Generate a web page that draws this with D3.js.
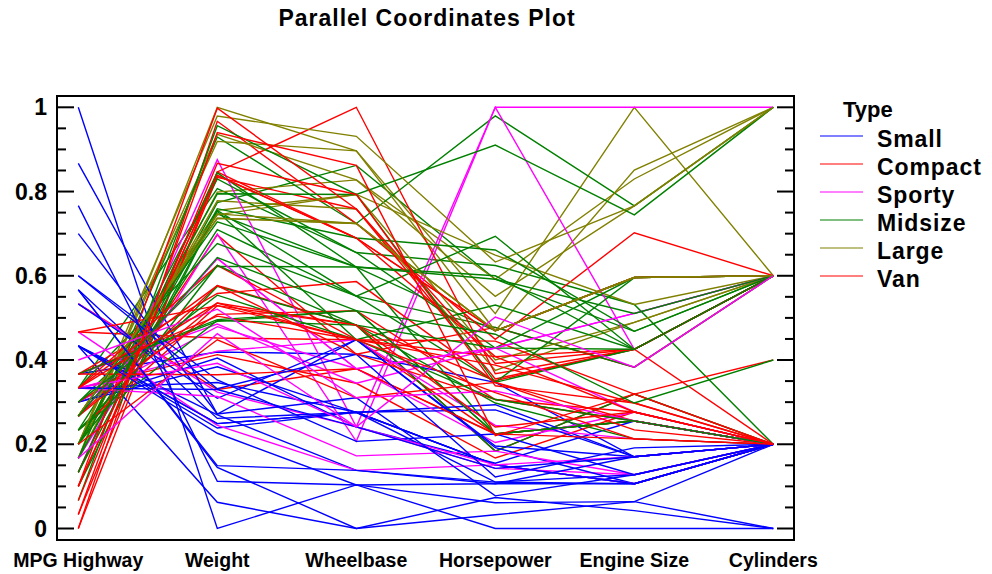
<!DOCTYPE html>
<html>
<head>
<meta charset="utf-8">
<script src="https://cdn.jsdelivr.net/npm/d3@7"></script>
<style>
  body { margin: 0; background: #fff; }
  text { font-family: "Liberation Sans", Arial, sans-serif; font-weight: bold; fill: #000; }
</style>
</head>
<body>
<script>
// Cars93 (Mazda RX-7 has no cylinder count, so it is left out)
var dimensions = ["MPG Highway", "Weight", "Wheelbase", "Horsepower", "Engine Size", "Cylinders"];
var typeNames = ["Small", "Compact", "Sporty", "Midsize", "Large", "Van"];
var typeColors = ["#0000ff", "#ff0000", "#ff00ff", "#008000", "#808000", "#ff0000"];
var yTicks = [0, 0.2, 0.4, 0.6, 0.8, 1];

var carType = [
  "Small","Midsize","Compact","Midsize","Midsize","Midsize","Large","Large","Midsize","Large",
  "Midsize","Compact","Compact","Sporty","Midsize","Van","Van","Large","Sporty","Large",
  "Compact","Large","Small","Small","Compact","Van","Midsize","Sporty","Small","Large",
  "Small","Small","Compact","Sporty","Sporty","Van","Midsize","Large","Small","Sporty",
  "Sporty","Small","Compact","Small","Small","Sporty","Midsize","Midsize","Midsize","Midsize",
  "Midsize","Large","Small","Small","Compact","Van","Compact","Midsize","Sporty","Midsize",
  "Small","Midsize","Small","Compact","Van","Midsize","Compact","Midsize","Van","Large",
  "Sporty","Small","Compact","Sporty","Midsize","Large","Compact","Small","Small","Small",
  "Compact","Small","Small","Sporty","Midsize","Van","Small","Van","Compact","Sporty",
  "Compact","Midsize"
];
var mpgHighway = [
  31,25,26,26,30,31,28,25,27,25, 25,36,34,28,29,23,20,26,25,28,
  28,26,33,29,27,21,27,24,33,28, 33,30,30,29,30,20,30,26,50,36,
  31,46,31,33,29,34,27,22,24,23, 26,26,37,36,34,24,29,25,30,26,
  33,24,38,30,23,26,31,31,23,28, 30,41,31,28,28,28,26,38,37,30,
  30,43,37,32,29,22,33,21,30,25, 28,28
];
var weight = [
  2705,3560,3375,3405,3640,2880,3470,4105,3495,3620, 3935,2490,2785,3240,3195,3715,4025,3910,3380,3515,
  3085,3570,2270,2670,2970,3705,3080,3805,2295,3490, 1845,2530,2690,2850,2710,3735,3325,3950,1695,2475,
  2865,2350,3040,2345,2620,2285,2885,4000,3510,3515, 3695,4055,2325,2440,2970,3735,2920,3525,2450,3610,
  2295,3730,2545,3200,4100,3200,2910,2890,3715,3470, 2640,2350,2575,3240,3450,3495,2775,2495,2045,2490,
  3085,1965,2055,2950,3030,3785,2240,3960,2985,2810, 2985,3245
];
var wheelbase = [
  102,115,102,106,109,105,111,116,108,114, 111,101,103,101,108,110,111,116,96,113,
  104,112,98,97,104,112,104,97,98,113, 90,98,100,101,103,119,106,114,93,97,
  100,103,107,94,98,94,104,113,103,106, 109,117,98,103,103,110,105,110,95,113,
  98,108,96,103,112,104,103,105,110,111, 97,99,101,101,108,111,99,102,90,97,
  102,93,94,99,103,113,93,115,103,97, 104,105
];
var horsepower = [
  140,200,172,172,208,110,170,180,170,200, 295,110,110,160,110,170,165,170,300,153,
  141,147,92,93,100,142,100,300,92,214, 63,127,96,105,115,145,140,190,55,90,
  160,102,140,81,124,92,128,278,185,225, 160,210,82,103,164,155,130,217,100,140,
  92,202,110,150,151,160,155,110,170,170, 92,74,110,160,200,170,140,85,73,90,
  130,70,82,135,130,138,81,109,134,178, 114,168
];
var engineSize = [
  1.8,3.2,2.8,2.8,3.5,2.2,3.8,5.7,3.8,4.9, 4.6,2.2,2.2,3.4,2.2,3.8,4.3,5.0,5.7,3.3,
  3.0,3.3,1.5,2.2,2.5,3.0,2.5,3.0,1.5,3.5, 1.3,1.8,2.3,2.3,2.0,3.0,3.0,4.6,1.0,1.6,
  2.3,1.5,2.2,1.5,1.8,1.5,2.0,4.5,3.0,3.0, 3.8,4.6,1.6,1.8,2.5,3.0,2.3,3.2,1.6,3.8,
  1.5,3.0,1.6,2.4,3.0,3.0,2.3,2.2,3.8,3.8, 1.8,1.6,2.0,3.4,3.4,3.8,2.1,1.9,1.2,1.8,
  2.2,1.3,1.5,2.2,2.2,2.4,1.8,2.5,2.0,2.8, 2.3,2.4
];
var cylinders = [
  4,6,6,6,4,4,6,6,6,8, 8,4,4,6,4,6,6,8,8,6,
  4,6,4,4,4,6,4,6,4,6, 4,4,4,4,4,6,6,8,3,4,
  4,4,4,4,4,4,4,8,6,6, 6,8,4,4,4,6,4,6,4,6,
  4,6,4,4,6,6,4,4,6,6, 4,4,4,6,6,6,4,4,3,4,
  4,3,4,4,4,4,4,5,4,6, 4,5
];
var columns = [mpgHighway, weight, wheelbase, horsepower, engineSize, cylinders];

var W = 992, H = 574;
var frame = { left: 57, right: 794, top: 96, bottom: 540 };

var svg = d3.select("body").append("svg")
    .attr("width", W)
    .attr("height", H);

// Axis positions and the shared 0..1 vertical scale
var x = d3.scalePoint().domain(dimensions).range([78.3, 773.3]);
var y = d3.scaleLinear().domain([0, 1]).range([528.5, 107.3]);

// every variable is rescaled to its own min..max
var norm = columns.map(function(col) {
    return d3.scaleLinear().domain(d3.extent(col)).range([0, 1]);
});
var color = d3.scaleOrdinal().domain(typeNames).range(typeColors);

// Title
svg.append("text")
    .attr("x", 427)
    .attr("y", 26)
    .attr("text-anchor", "middle")
    .style("font-size", "23px")
    .style("letter-spacing", "1px")
    .text("Parallel Coordinates Plot");

// Lines, one per car
var line = d3.line().x(function(d) { return d[0]; }).y(function(d) { return d[1]; });
var plot = svg.append("g");
for (var i = 0; i < carType.length; i++) {
    var pts = dimensions.map(function(dim, j) {
        return [x(dim), y(norm[j](columns[j][i]))];
    });
    plot.append("path")
        .attr("d", line(pts))
        .attr("fill", "none")
        .attr("stroke", color(carType[i]))
        .attr("stroke-width", 1.4);
}

// Frame
svg.append("rect")
    .attr("x", frame.left)
    .attr("y", frame.top)
    .attr("width", frame.right - frame.left)
    .attr("height", frame.bottom - frame.top)
    .attr("fill", "none")
    .attr("stroke", "#000")
    .attr("stroke-width", 2);

// Ticks on both sides, pointing inward
var minor = d3.range(0, 1.0001, 0.05);
minor.forEach(function(v) {
    var isMajor = Math.abs(v * 5 - Math.round(v * 5)) < 1e-6;
    var len = isMajor ? 17 : 9;
    svg.append("line")
        .attr("x1", frame.left).attr("x2", frame.left + len)
        .attr("y1", y(v)).attr("y2", y(v))
        .attr("stroke", "#000").attr("stroke-width", 2);
    svg.append("line")
        .attr("x1", frame.right).attr("x2", frame.right - len)
        .attr("y1", y(v)).attr("y2", y(v))
        .attr("stroke", "#000").attr("stroke-width", 2);
});

yTicks.forEach(function(v) {
    svg.append("text")
        .attr("x", 47)
        .attr("y", y(v) + 8)
        .attr("text-anchor", "end")
        .style("font-size", "23px")
        .text(d3.format("")(v));
});

// Axis names under the frame
dimensions.forEach(function(dim) {
    svg.append("text")
        .attr("x", x(dim))
        .attr("y", 567)
        .attr("text-anchor", "middle")
        .style("font-size", "19.5px")
        .text(dim);
});

// Legend
var legendY = d3.scalePoint().domain(typeNames).range([136, 276]);
svg.append("text")
    .attr("x", 843)
    .attr("y", 117)
    .style("font-size", "22px")
    .text("Type");
typeNames.forEach(function(t) {
    svg.append("line")
        .attr("x1", 820).attr("x2", 863)
        .attr("y1", legendY(t)).attr("y2", legendY(t))
        .attr("stroke", color(t)).attr("stroke-width", 1.2);
    svg.append("text")
        .attr("x", 877)
        .attr("y", legendY(t) + 10.5)
        .style("font-size", "23px")
        .style("letter-spacing", "0.9px")
        .text(t);
});
</script>
</body>
</html>
